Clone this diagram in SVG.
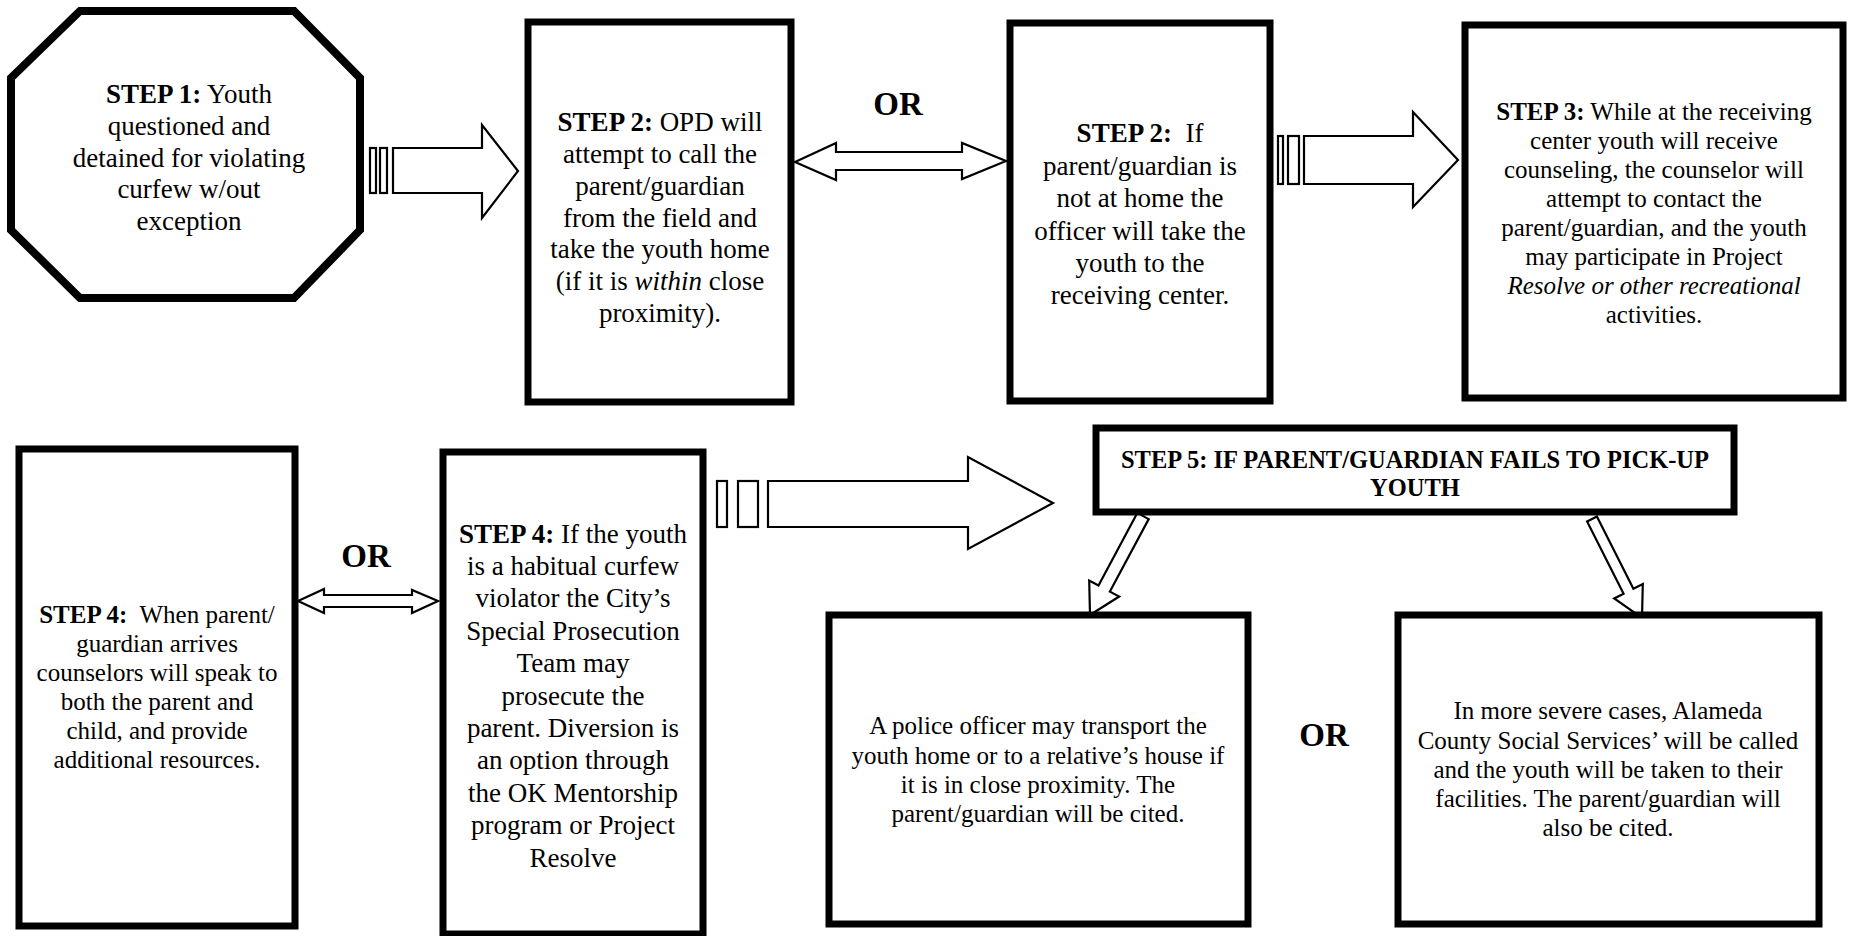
<svg xmlns="http://www.w3.org/2000/svg" width="1851" height="936" viewBox="0 0 1851 936">
<style>
.box{fill:#fff;stroke:#000;stroke-width:7}
.arr{fill:#fff;stroke:#000;stroke-width:2.2;stroke-linejoin:miter}
.t{font-family:"Liberation Serif","Times New Roman",serif;fill:#000;text-anchor:middle}
.f27{font-size:27px}
.f25{font-size:25px}
.b{font-weight:bold}
.i{font-style:italic}
.or{font-family:"Liberation Serif","Times New Roman",serif;font-weight:bold;font-size:33px;text-anchor:middle;fill:#000}
</style>
<rect width="1851" height="936" fill="#fff"/>
<g id="connectors">
  <rect class="arr" x="370" y="148" width="6" height="45"/>
  <rect class="arr" x="380" y="148" width="7" height="45"/>
  <polygon class="arr" points="393,148 482,148 482,125 518,171 482,218 482,193 393,193"/>
  <polygon class="arr" points="795,162 836,143 836,152 962,152 962,143 1006,161 962,179 962,170 836,170 836,180"/>
  <rect class="arr" x="1278" y="136" width="5" height="48"/>
  <rect class="arr" x="1288" y="136" width="11" height="48"/>
  <polygon class="arr" points="1304,136 1413,136 1413,112 1458,160 1413,207 1413,184 1304,184"/>
  <polygon class="arr" points="298,601 324,589 324,595 412,595 412,590 438,601 412,613 412,607 324,607 324,613"/>
  <rect class="arr" x="717" y="481" width="10" height="46"/>
  <rect class="arr" x="738" y="481" width="20" height="46"/>
  <polygon class="arr" points="768,481 968,481 968,457 1053,503 968,549 968,527 768,527"/>
  <polygon class="arr" points="1137.3,512.9 1148.7,519.1 1109.9,591.6 1119.2,596.5 1090,615 1089.2,580.5 1098.5,585.4"/>
  <polygon class="arr" points="1587.1,521.5 1596.9,516.5 1633.4,588.7 1642.8,584 1642,618 1614.2,598.4 1623.6,593.7"/>
</g>
<g id="step1">
  <polygon points="80,11 294,11 360,78 360,230 294,298 80,298 11,230 11,78" fill="#fff" stroke="#000" stroke-width="8" stroke-linejoin="miter"/>
  <text class="t f27" x="189" y="103"><tspan class="b">STEP 1:</tspan> Youth</text>
  <text class="t f27" x="189" y="135">questioned and</text>
  <text class="t f27" x="189" y="167">detained for violating</text>
  <text class="t f27" x="189" y="198">curfew w/out</text>
  <text class="t f27" x="189" y="230">exception</text>
</g>
<g id="step2-call">
  <rect class="box" x="528" y="22" width="263" height="380"/>
  <text class="t f27" x="660" y="131"><tspan class="b">STEP 2:</tspan> OPD will</text>
  <text class="t f27" x="660" y="163">attempt to call the</text>
  <text class="t f27" x="660" y="195">parent/guardian</text>
  <text class="t f27" x="660" y="226.5">from the field and</text>
  <text class="t f27" x="660" y="258">take the youth home</text>
  <text class="t f27" x="660" y="290">(if it is <tspan class="i">within</tspan> close</text>
  <text class="t f27" x="660" y="321.5">proximity).</text>
</g>
<g id="or1"><text class="or" x="898" y="115">OR</text></g>
<g id="step2-center">
  <rect class="box" x="1010" y="23" width="260" height="378"/>
  <text class="t f27" x="1140" y="142"><tspan class="b">STEP 2:</tspan>&#160; If</text>
  <text class="t f27" x="1140" y="174.5">parent/guardian is</text>
  <text class="t f27" x="1140" y="207">not at home the</text>
  <text class="t f27" x="1140" y="239.5">officer will take the</text>
  <text class="t f27" x="1140" y="272">youth to the</text>
  <text class="t f27" x="1140" y="304">receiving center.</text>
</g>
<g id="step3">
  <rect class="box" x="1465" y="25" width="378" height="373"/>
  <text class="t f25" x="1654" y="120"><tspan class="b">STEP 3:</tspan> While at the receiving</text>
  <text class="t f25" x="1654" y="149">center youth will receive</text>
  <text class="t f25" x="1654" y="178">counseling, the counselor will</text>
  <text class="t f25" x="1654" y="207">attempt to contact the</text>
  <text class="t f25" x="1654" y="236">parent/guardian, and the youth</text>
  <text class="t f25" x="1654" y="265">may participate in Project</text>
  <text class="t f25 i" x="1654" y="294">Resolve or other recreational</text>
  <text class="t f25" x="1654" y="323">activities.</text>
</g>
<g id="step4-parent">
  <rect class="box" x="19" y="449" width="276" height="477"/>
  <text class="t f25" x="157" y="623"><tspan class="b">STEP 4:</tspan>&#160; When parent/</text>
  <text class="t f25" x="157" y="652">guardian arrives</text>
  <text class="t f25" x="157" y="681">counselors will speak to</text>
  <text class="t f25" x="157" y="710">both the parent and</text>
  <text class="t f25" x="157" y="739">child, and provide</text>
  <text class="t f25" x="157" y="768">additional resources.</text>
</g>
<g id="or2"><text class="or" x="366" y="567">OR</text></g>
<g id="step4-habitual">
  <rect class="box" x="443" y="452" width="260" height="482"/>
  <text class="t f27" x="573" y="542.5"><tspan class="b">STEP 4:</tspan> If the youth</text>
  <text class="t f27" x="573" y="574.9">is a habitual curfew</text>
  <text class="t f27" x="573" y="607.3">violator the City’s</text>
  <text class="t f27" x="573" y="639.7">Special Prosecution</text>
  <text class="t f27" x="573" y="672.1">Team may</text>
  <text class="t f27" x="573" y="704.5">prosecute the</text>
  <text class="t f27" x="573" y="736.9">parent. Diversion is</text>
  <text class="t f27" x="573" y="769.3">an option through</text>
  <text class="t f27" x="573" y="801.7">the OK Mentorship</text>
  <text class="t f27" x="573" y="834.1">program or Project</text>
  <text class="t f27" x="573" y="866.5">Resolve</text>
</g>
<g id="step5">
  <rect class="box" x="1096" y="428" width="638" height="84"/>
  <text class="t b" font-size="24.5" x="1415" y="468">STEP 5: IF PARENT/GUARDIAN FAILS TO PICK-UP</text>
  <text class="t b" font-size="24.5" x="1415" y="496">YOUTH</text>
</g>
<g id="police-transport">
  <rect class="box" x="829" y="615" width="419" height="309"/>
  <text class="t f25" x="1038" y="734">A police officer may transport the</text>
  <text class="t f25" x="1038" y="763.5">youth home or to a relative’s house if</text>
  <text class="t f25" x="1038" y="793">it is in close proximity. The</text>
  <text class="t f25" x="1038" y="822">parent/guardian will be cited.</text>
</g>
<g id="or3"><text class="or" x="1324" y="746">OR</text></g>
<g id="social-services">
  <rect class="box" x="1398" y="615" width="421" height="309"/>
  <text class="t f25" x="1608" y="719">In more severe cases, Alameda</text>
  <text class="t f25" x="1608" y="748.5">County Social Services’ will be called</text>
  <text class="t f25" x="1608" y="778">and the youth will be taken to their</text>
  <text class="t f25" x="1608" y="807">facilities. The parent/guardian will</text>
  <text class="t f25" x="1608" y="836">also be cited.</text>
</g>
</svg>
